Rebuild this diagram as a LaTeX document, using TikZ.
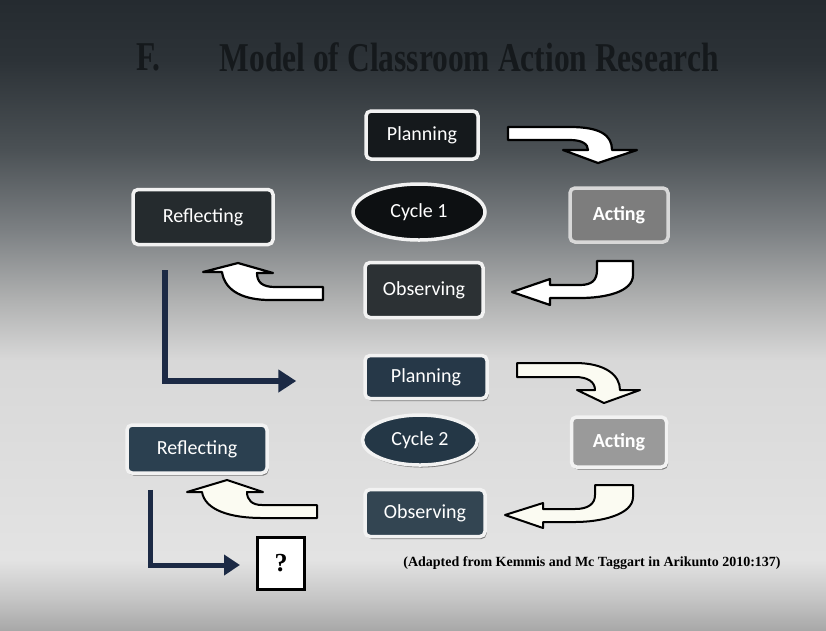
\documentclass[tikz,border=0pt]{standalone}
\usepackage{fontspec}
\usepackage{graphicx}
\usetikzlibrary{arrows.meta,shapes.geometric,shadows}
\newfontfamily\carlito{Carlito}
\newfontfamily\tnr{Liberation Serif}
\definecolor{bgA}{HTML}{252B30}
\definecolor{bgB}{HTML}{2C3237}
\definecolor{bgC}{HTML}{4B5155}
\definecolor{bgD}{HTML}{7C8083}
\definecolor{bgE}{HTML}{B0B1B1}
\definecolor{bgF}{HTML}{D8D8D8}
\definecolor{bgG}{HTML}{E3E3E3}
\definecolor{bgH}{HTML}{C4C4C4}
\definecolor{bgI}{HTML}{A8A8A8}
\definecolor{titletext}{HTML}{15191C}
\definecolor{edgeA}{HTML}{F2F2F2}
\definecolor{fillPlanA}{HTML}{15191C}
\definecolor{fillCycA}{HTML}{0D1012}
\definecolor{fillActA}{HTML}{7D7D7D}
\definecolor{fillRefA}{HTML}{252B2E}
\definecolor{fillObsA}{HTML}{2C3134}
\definecolor{fillPlanB}{HTML}{263848}
\definecolor{fillCycB}{HTML}{243746}
\definecolor{fillActB}{HTML}{9A9A9A}
\definecolor{fillRefB}{HTML}{2B4050}
\definecolor{fillObsB}{HTML}{334552}
\definecolor{navy}{HTML}{1C2A45}
\definecolor{cream}{HTML}{FBFBF2}
\pgfdeclareverticalshading{slidebg}{100bp}{color(0bp)=(bgI); color(25bp)=(bgI); color(27.38bp)=(bgH); color(30.56bp)=(bgG); color(46.43bp)=(bgF); color(51.19bp)=(bgE); color(56.75bp)=(bgD); color(63.1bp)=(bgC); color(70.24bp)=(bgB); color(75bp)=(bgA); color(100bp)=(bgA)}
\tikzset{
  stagebox/.style={rectangle, rounded corners=5pt, draw=edgeA, line width=3.5pt, text=white,
    font=\carlito\fontsize{20}{24}\selectfont, inner sep=0pt},
  cyclebox/.style={ellipse, draw=edgeA, line width=3.5pt, text=white,
    font=\carlito\fontsize{20}{24}\selectfont, inner sep=0pt},
  shadowed/.style={drop shadow={shadow xshift=1.5pt, shadow yshift=-2.5pt, fill=black, opacity=0.45}},
  blockarrow/.style={fill=white, draw=black, line width=2.2pt, line join=round},
  blockarrowB/.style={fill=cream, draw=black, line width=2pt, line join=round},
  larrow/.style={draw=navy, line width=6pt, -{Triangle[length=18pt,width=22pt]}},
  larrowB/.style={draw=navy, line width=5pt, -{Triangle[length=16pt,width=20pt]}},
}
\begin{document}
\begin{tikzpicture}[x=1pt,y=-1pt]
\useasboundingbox (0,0) rectangle (826,630);
\shade[shading=slidebg] (0,0) rectangle (826,630);

% title
\node[anchor=west, text=titletext, font=\tnr\bfseries\fontsize{31.5}{32}\selectfont] (tf) at (133,57) {\scalebox{1}[1.3]{F.}};
\node[anchor=west, text=titletext, font=\tnr\bfseries\fontsize{31.5}{32}\selectfont] (tm) at (216,57) {\scalebox{1}[1.3]{Model of Classroom Action Research}};

% cycle 1
\node[stagebox, fill=fillPlanA, minimum width=112pt, minimum height=48pt] (plan1) at (422,135) {Planning};
\node[cyclebox, fill=fillCycA, minimum width=132pt, minimum height=56pt] (cyc1) at (419,212) {Cycle 1};
\node[stagebox, fill=fillActA, draw=bgF, minimum width=98pt, minimum height=54pt, font=\carlito\bfseries\fontsize{20}{24}\selectfont] (act1) at (619,215) {Acting};
\node[stagebox, fill=fillRefA, minimum width=140pt, minimum height=55pt] (ref1) at (203,217) {Reflecting};
\node[stagebox, fill=fillObsA, minimum width=118pt, minimum height=55pt] (obs1) at (424,290) {Observing};

% cycle 2
\node[stagebox, shadowed, fill=fillPlanB, minimum width=122pt, minimum height=43pt] (plan2) at (426,377) {Planning};
\node[cyclebox, shadowed, fill=fillCycB, minimum width=115pt, minimum height=50pt] (cyc2) at (420,440) {Cycle 2};
\node[stagebox, shadowed, fill=fillActB, minimum width=95pt, minimum height=50pt, font=\carlito\bfseries\fontsize{20}{24}\selectfont] (act2) at (619,442) {Acting};
\node[stagebox, shadowed, fill=fillRefB, minimum width=140pt, minimum height=48pt] (ref2) at (197,449) {Reflecting};
\node[stagebox, shadowed, fill=fillObsB, minimum width=120pt, minimum height=47pt] (obs2) at (425,513) {Observing};

\node[draw=black, fill=white, line width=3pt, minimum width=47pt, minimum height=52pt, inner sep=0pt,
  font=\tnr\bfseries\fontsize{26}{28}\selectfont] (q) at (281,563) {?};

\node[font=\tnr\bfseries\fontsize{14}{16}\selectfont, text=black] (cap) at (592,563)
  {(Adapted from Kemmis and Mc Taggart in Arikunto 2010:137)};

% block arrows, cycle 1
\draw[blockarrow] (508,127) -- (570,127) .. controls (600,127) and (612,135) .. (612,150)
  -- (637,150) -- (598,163) -- (563,150) -- (588,150) .. controls (588,144) and (582,140) .. (570,140)
  -- (508,140) -- cycle;
\draw[blockarrow] (597,261) -- (633,261) -- (633,275) .. controls (633,292) and (605,298) .. (580,298)
  -- (550,298) -- (550,305) -- (512,292) -- (550,279) -- (550,285) -- (580,285)
  .. controls (592,285) and (597,280) .. (597,270) -- cycle;
\draw[blockarrow] (323,287) -- (275,287) .. controls (262,287) and (257,282) .. (257,273)
  -- (273,273) -- (238,263) -- (203,272) -- (222,272) .. controls (225,292) and (245,300) .. (270,300)
  -- (323,300) -- cycle;

% block arrows, cycle 2
\draw[blockarrowB] (517,363) -- (575,363) .. controls (605,363) and (620,375) .. (620,390)
  -- (640,390) -- (604,403) -- (577,390) -- (595,390) .. controls (595,382) and (588,377) .. (575,377)
  -- (517,377) -- cycle;
\draw[blockarrowB] (595,485) -- (633,485) -- (633,497) .. controls (633,515) and (600,522) .. (575,522)
  -- (543,522) -- (543,528) -- (505,515) -- (543,503) -- (543,509) -- (575,509)
  .. controls (588,509) and (595,504) .. (595,495) -- cycle;
\draw[blockarrowB] (317,505) -- (262,505) .. controls (252,505) and (247,500) .. (247,492)
  -- (263,492) -- (227,480) -- (187,492) -- (202,492) .. controls (205,510) and (230,518) .. (262,518)
  -- (317,518) -- cycle;

% L arrows
\coordinate (l1end) at ([xshift=-67pt,yshift=-4pt]plan2.west);
\draw[larrow] ([xshift=-38pt,yshift=-24pt]ref1.south) |- (l1end);
\coordinate (l2end) at ([xshift=-16pt,yshift=-2pt]q.west);
\draw[larrowB] ([xshift=-47pt,yshift=-15pt]ref2.south) |- (l2end);
\end{tikzpicture}
\end{document}
